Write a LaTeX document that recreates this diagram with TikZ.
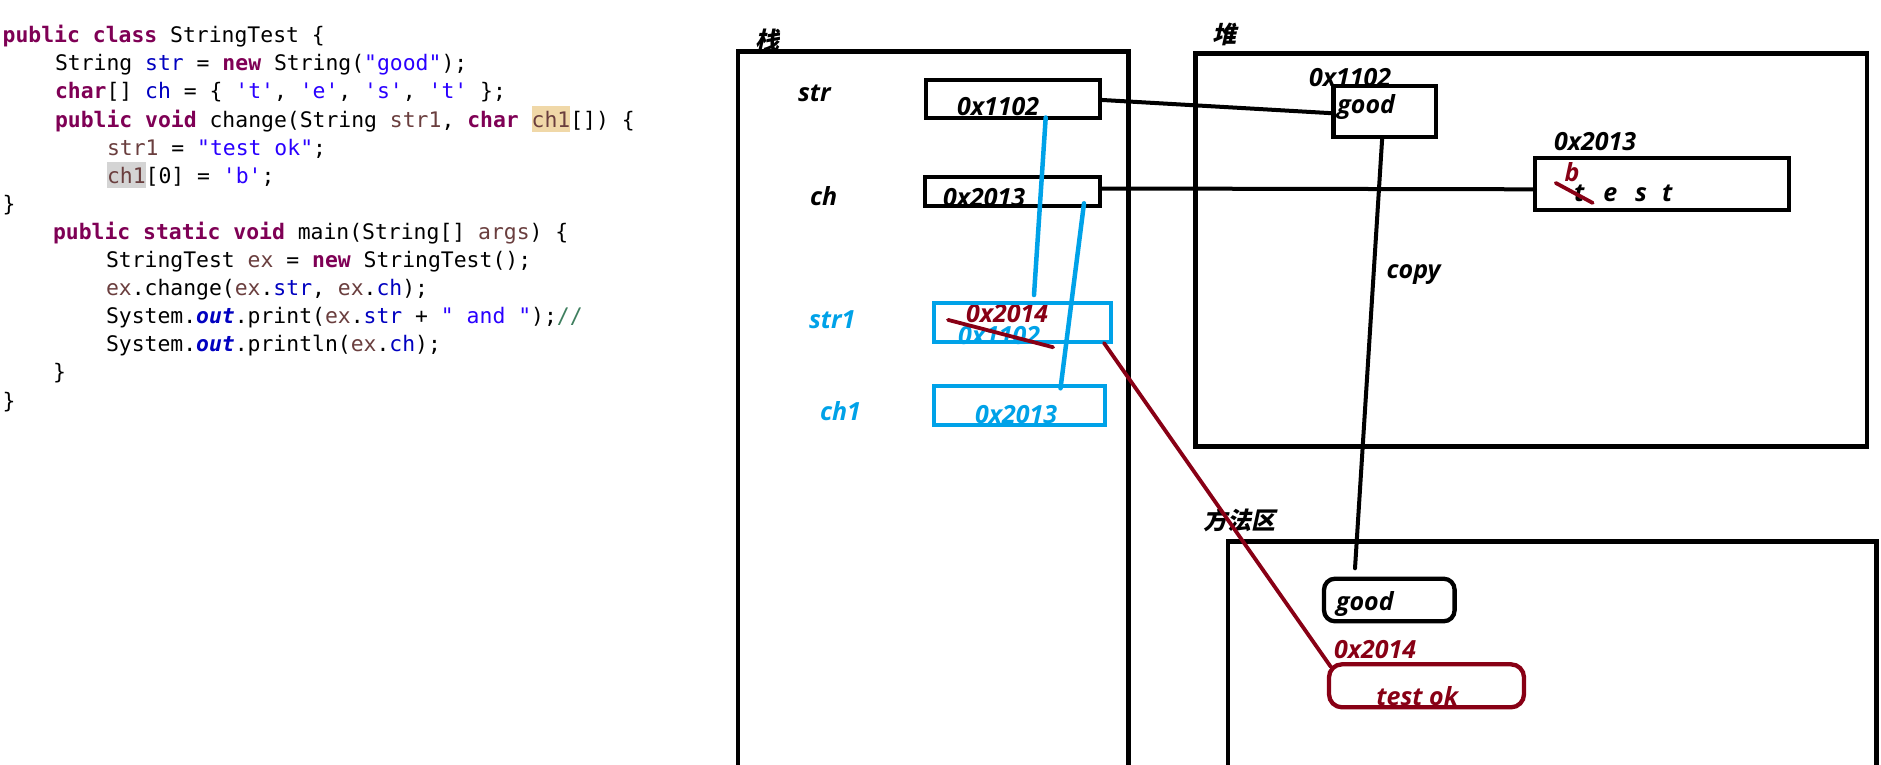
\documentclass[tikz,border=0pt]{standalone}
\usepackage{fontspec}
\usetikzlibrary{calc}
\newfontfamily\codefont{DejaVu Sans Mono}
\newfontfamily\dfont{Open Sans}
\newfontfamily\cjkfont{Noto Sans CJK SC}[FakeSlant=0.22, BoldFeatures={FakeSlant=0.22}]
\definecolor{ckw}{HTML}{7F0055}
\definecolor{cfd}{HTML}{0000C0}
\definecolor{cst}{HTML}{2A00FF}
\definecolor{clv}{HTML}{6A3E3E}
\definecolor{ccm}{HTML}{3F7F5F}
\definecolor{hla}{HTML}{F0D8A8}
\definecolor{hlb}{HTML}{D4D4D4}
\definecolor{pblue}{HTML}{00A2E8}
\definecolor{pred}{HTML}{880015}
\newcommand\cKw[1]{\textcolor{ckw}{\bfseries #1}}
\newcommand\cFd[1]{\textcolor{cfd}{#1}}
\newcommand\cSt[1]{\textcolor{cst}{#1}}
\newcommand\cLv[1]{\textcolor{clv}{#1}}
\newcommand\cCm[1]{\textcolor{ccm}{#1}}
\newcommand\cOut[1]{\textcolor{cfd}{\bfseries\itshape #1}}
\newcommand\cHl[2]{{\setlength\fboxsep{0pt}\colorbox{#1}{\rule[-5pt]{0pt}{26.5pt}#2}}}
\newcommand\sq{\textquotesingle}
\frenchspacing
\begin{document}
\begin{tikzpicture}[x=1pt,y=-1pt,
  code/.style={anchor=base west, inner sep=0pt, outer sep=0pt, font=\codefont\fontsize{21.4}{25}\selectfont},
  lbl/.style={anchor=base west, inner sep=0pt, outer sep=0pt, font=\dfont\bfseries\itshape\fontsize{25}{30}\selectfont},
  cjk/.style={anchor=center, inner sep=0pt, font=\cjkfont\bfseries\fontsize{24}{28}\selectfont},
  frame/.style={draw=black, line width=4.5pt, inner sep=0pt, outer sep=0pt, anchor=north west},
  cell/.style={draw=black, line width=4.3pt, inner sep=0pt, outer sep=0pt, anchor=center},
  bcell/.style={cell, draw=pblue},
  conn/.style={draw=black, line width=4pt, line cap=round},
  bconn/.style={draw=pblue, line width=4.5pt, line cap=round},
  rconn/.style={draw=pred, line width=3.8pt, line cap=round}]
\useasboundingbox (0,0) rectangle (1881,764);
\fill[white] (0,0) rectangle (1881,764);

% ---------------- code ----------------
\node[code] (l1)  at (2.7,42.7)  {\cKw{public} \cKw{class} StringTest \{};
\node[code] (l2)  at (55,70.8)   {String \cFd{str} = \cKw{new} String(\cSt{"good"});};
\node[code] (l3)  at (55,98.9)   {\cKw{char}[] \cFd{ch} = \{ \cSt{\sq t\sq}, \cSt{\sq e\sq}, \cSt{\sq s\sq}, \cSt{\sq t\sq} \};};
\node[code] (l4)  at (55,127.0)  {\cKw{public} \cKw{void} change(String \cLv{str1}, \cKw{char} \cHl{hla}{\cLv{ch1}}[]) \{};
\node[code] (l5)  at (107,155.1) {\cLv{str1} = \cSt{"test ok"};};
\node[code] (l6)  at (107,183.2) {\cHl{hlb}{\cLv{ch1}}[0] = \cSt{\sq b\sq};};
\node[code] (l7)  at (2.7,211.3) {\}};
\node[code] (l8)  at (53,239.4)  {\cKw{public} \cKw{static} \cKw{void} main(String[] \cLv{args}) \{};
\node[code] (l9)  at (106,267.5) {StringTest \cLv{ex} = \cKw{new} StringTest();};
\node[code] (l10) at (106,295.6) {\cLv{ex}.change(\cLv{ex}.\cFd{str}, \cLv{ex}.\cFd{ch});};
\node[code] (l11) at (106,323.7) {System.\cOut{out}.print(\cLv{ex}.\cFd{str} + \cSt{" and "});\cCm{//}};
\node[code] (l12) at (106,351.8) {System.\cOut{out}.println(\cLv{ex}.\cFd{ch});};
\node[code] (l13) at (53,379.9)  {\}};
\node[code] (l14) at (2.7,408.0) {\}};

% ---------------- region titles ----------------
\node[cjk] (tstack)  at (767,40)    {栈};
\node[cjk] (theap)   at (1224,34) {堆};
\node[cjk] (tmethod) at (1239,520) {方法区};

% ---------------- texts (drawn before boxes) ----------------
\node[lbl] (lstr)  at (798,101.7) {str};
\node[lbl] (lch)   at (810,205)   {ch};
\node[lbl, text=pblue] (lstr1) at (809,328)   {str1};
\node[lbl, text=pblue] (lch1)  at (820,420.7) {ch1};

\node[lbl] (vstr) at (957,115)   {0x1102};
\node[lbl] (vch)  at (943,206.7) {0x2013};
\node[lbl, text=pblue] (vstr1old) at (958,344) {0x1102};
\node[lbl, text=pred]  (vstr1new) at (966,322.7) {0x2014};
\node[lbl, text=pblue] (vch1) at (975,423) {0x2013};

\node[lbl] (agood) at (1309,86)    {0x1102};
\node[lbl] (tgood) at (1337.4,113.3) {good};
\node[lbl] (atest) at (1554,150.7) {0x2013};
\node[lbl] (ttest) at (1574,201.7) {t\hspace{19pt}e\hspace{18pt}s\hspace{15pt}t};
\node[lbl, text=pred] (tb) at (1564.7,181.7) {b};
\node[lbl] (tcopy) at (1386.6,278) {copy};

\node[lbl] (mgood) at (1336,610) {good};
\node[lbl, text=pred] (aok) at (1334,658.3) {0x2014};
\node[lbl, text=pred] (tok) at (1376.4,705) {test ok};

% ---------------- frames ----------------
\node[frame, minimum width=390.6pt, minimum height=760pt] (stack)  at (738,51.7) {};
\node[frame, minimum width=671.4pt, minimum height=393.4pt] (heap) at (1195.6,53.3) {};
\node[frame, minimum width=648.6pt, minimum height=300pt] (method) at (1227.8,541.7) {};

% ---------------- cells ----------------
\node[cell,  minimum width=174pt, minimum height=38.3pt] (strbox)  at (1013,98.85) {};
\node[cell,  minimum width=175pt, minimum height=29pt]   (chbox)   at (1012.5,191.5) {};
\node[bcell, minimum width=177pt, minimum height=39pt]   (str1box) at (1022.5,322.5) {};
\node[bcell, minimum width=171pt, minimum height=39pt]   (ch1box)  at (1019.5,405.5) {};
\node[cell,  minimum width=102.5pt, minimum height=51pt] (goodH)   at (1384.75,111.5) {};
\node[cell,  minimum width=254pt, minimum height=52pt]   (testH)   at (1662,183.7) {};
\node[cell,  rounded corners=11pt, minimum width=130.6pt, minimum height=42.6pt] (goodM) at (1389.3,600) {};
\node[cell,  draw=pred, rounded corners=13pt, minimum width=195pt, minimum height=43pt] (testok) at (1426.5,685.8) {};

% ---------------- connectors ----------------
\coordinate (copyend) at (1355,568.3);
\coordinate (b1end) at (1034,295);
\coordinate (b2start) at (1084,203.3);
\coordinate (b2end) at (1060.5,388.3);

\draw[conn] ([yshift=-1pt]strbox.east) -- ([yshift=-1.8pt]goodH.west);
\draw[conn] ([yshift=3pt]chbox.east) -- ([yshift=-5.6pt]testH.west);
\draw[conn] ([xshift=-2.5pt]goodH.south) -- (copyend);
\draw[rconn] ([xshift=-7pt,yshift=-1pt]str1box.south east) -- ([xshift=1.7pt,yshift=-2.4pt]testok.north west);
\draw[bconn] ([xshift=32.7pt,yshift=0.5pt]strbox.south) -- (b1end);
\draw[bconn] (b2start) -- (b2end);

% strike-outs
\draw[rconn] ([xshift=-10pt,yshift=6pt]vstr1old.north west) -- ([xshift=13pt,yshift=-3pt]vstr1old.south east);
\draw[rconn] ([xshift=-9pt,yshift=-1pt]tb.south west) -- ([xshift=28pt,yshift=-21pt]tb.south west);
\end{tikzpicture}
\end{document}
